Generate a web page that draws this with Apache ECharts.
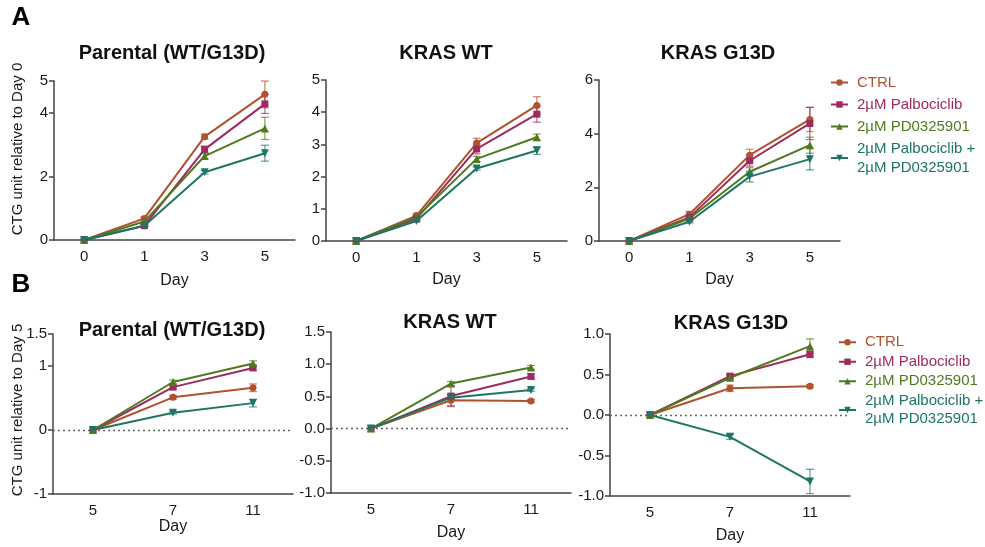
<!DOCTYPE html>
<html>
<head>
<meta charset="utf-8">
<script src="https://cdn.jsdelivr.net/npm/echarts@6/dist/echarts.min.js"></script>
<style>
  html, body { margin: 0; padding: 0; background: #fff; }
  #chart-container { width: 985px; height: 547px; }
</style>
</head>
<body>
<div id="chart-container"></div>
<script>
var dom = document.getElementById("chart-container");
var myChart = echarts.init(dom, null, { renderer: "canvas" });

// groups and days
var groupNames = ["CTRL", "2µM Palbociclib", "2µM PD0325901", "2µM Palbociclib +\n2µM PD0325901"];
var groupColors = ["#b0522e", "#9e2a5e", "#4f7a1e", "#1d7565"];
var daysA = ["0", "1", "3", "5"];
var daysB = ["5", "7", "11"];

// panel A: relative to day 0 (rows = CTRL, Palbo, PD, combo)
var aParental = [[0, 0.68, 3.25, 4.58], [0, 0.45, 2.85, 4.28], [0, 0.58, 2.64, 3.51], [0, 0.45, 2.13, 2.73]];
var aParentalErr = [[0, 0.05, 0.08, 0.42], [0, 0.03, 0.1, 0.3], [0, 0.05, 0.08, 0.35], [0, 0.03, 0.05, 0.25]];
var aWT = [[0, 0.79, 3.04, 4.21], [0, 0.69, 2.86, 3.94], [0, 0.74, 2.55, 3.22], [0, 0.62, 2.25, 2.81]];
var aWTErr = [[0, 0.05, 0.15, 0.27], [0, 0.05, 0.15, 0.25], [0, 0.03, 0.08, 0.1], [0, 0.03, 0.05, 0.12]];
var aG13D = [[0, 1.0, 3.2, 4.53], [0, 0.88, 2.99, 4.38], [0, 0.84, 2.58, 3.57], [0, 0.72, 2.4, 3.05]];
var aG13DErr = [[0, 0.1, 0.22, 0.45], [0, 0.08, 0.2, 0.6], [0, 0.05, 0.15, 0.3], [0, 0.05, 0.2, 0.4]];

// panel B: relative to day 5
var bParental = [[0, 0.51, 0.66], [0, 0.67, 0.97], [0, 0.75, 1.04], [0, 0.27, 0.42]];
var bParentalErr = [[0, 0.03, 0.06], [0, 0.03, 0.04], [0, 0.03, 0.04], [0, 0.02, 0.06]];
var bWT = [[0, 0.44, 0.43], [0, 0.505, 0.81], [0, 0.7, 0.95], [0, 0.48, 0.6]];
var bWTErr = [[0, 0.1, 0.02], [0, 0.15, 0.04], [0, 0.03, 0.03], [0, 0.03, 0.02]];
var bG13D = [[0, 0.33, 0.355], [0, 0.48, 0.75], [0, 0.46, 0.85], [0, -0.27, -0.82]];
var bG13DErr = [[0, 0.04, 0.02], [0, 0.03, 0.04], [0, 0.03, 0.09], [0, 0.03, 0.15]];

var font = "Liberation Sans, Arial, sans-serif";
var axisColor = "#444";
var labelColor = "#1a1a1a";
var symbols = ["circle", "rect", "triangle", "path://M0,0 L10,0 L5,10 Z"];
var symbolSizes = [7, 7, 8, 8];

var panels = [
  { title: "Parental (WT/G13D)", cats: daysA, vals: aParental, errs: aParentalErr,
    grid: { left: 54, top: 81, width: 241, height: 159 }, min: 0, max: 5, interval: 1,
    ticks: [0, 2, 4, 5], dec: 0, nameGap: 33, zero: false },
  { title: "KRAS WT", cats: daysA, vals: aWT, errs: aWTErr,
    grid: { left: 326, top: 80, width: 241, height: 161 }, min: 0, max: 5, interval: 1,
    ticks: [0, 1, 2, 3, 4, 5], dec: 0, nameGap: 31, zero: false },
  { title: "KRAS G13D", cats: daysA, vals: aG13D, errs: aG13DErr,
    grid: { left: 599, top: 80, width: 241, height: 161 }, min: 0, max: 6, interval: 2,
    ticks: [0, 2, 4, 6], dec: 0, nameGap: 31, zero: false },
  { title: "Parental (WT/G13D)", cats: daysB, vals: bParental, errs: bParentalErr,
    grid: { left: 53, top: 334, width: 240, height: 160 }, min: -1, max: 1.5, interval: 0.5,
    ticks: [-1, 0, 1, 1.5], dec: -1, nameGap: 25, zero: true },
  { title: "KRAS WT", cats: daysB, vals: bWT, errs: bWTErr,
    grid: { left: 331, top: 332, width: 240, height: 161 }, min: -1, max: 1.5, interval: 0.5,
    ticks: [-1, -0.5, 0, 0.5, 1, 1.5], dec: 1, nameGap: 32, zero: true },
  { title: "KRAS G13D", cats: daysB, vals: bG13D, errs: bG13DErr,
    grid: { left: 610, top: 334, width: 240, height: 162 }, min: -1, max: 1, interval: 0.5,
    ticks: [-1, -0.5, 0, 0.5, 1], dec: 1, nameGap: 32, zero: true },
];

function makeErrRender(color) {
  return function (params, api) {
    var x = api.value(0), y = api.value(1), e = api.value(2);
    if (!e) return;
    var top = api.coord([x, y + e]);
    var bot = api.coord([x, y - e]);
    var w = 4;
    var st = { stroke: color, lineWidth: 1.2, opacity: 0.7 };
    return {
      type: "group",
      children: [
        { type: "line", shape: { x1: top[0], y1: top[1], x2: bot[0], y2: bot[1] }, style: st },
        { type: "line", shape: { x1: top[0] - w, y1: top[1], x2: top[0] + w, y2: top[1] }, style: st },
        { type: "line", shape: { x1: bot[0] - w, y1: bot[1], x2: bot[0] + w, y2: bot[1] }, style: st },
      ],
    };
  };
}

var grids = [], xAxes = [], yAxes = [], series = [], graphics = [];

panels.forEach(function (p, i) {
  grids.push(p.grid);
  xAxes.push({
    type: "category",
    gridIndex: i,
    data: p.cats,
    boundaryGap: true,
    name: "Day",
    nameLocation: "middle",
    nameGap: p.nameGap,
    nameTextStyle: { fontFamily: font, fontSize: 16, color: labelColor },
    axisLine: { onZero: false, lineStyle: { color: axisColor, width: 1.5 } },
    axisTick: { alignWithLabel: true, length: 5, lineStyle: { color: axisColor, width: 1.5 } },
    axisLabel: { fontFamily: font, fontSize: 15, color: labelColor, margin: 9 },
    splitLine: { show: false },
  });
  yAxes.push({
    type: "value",
    gridIndex: i,
    min: p.min,
    max: p.max,
    interval: p.interval,
    axisLine: { show: true, lineStyle: { color: axisColor, width: 1.5 } },
    axisTick: { show: true, length: 5, customValues: p.ticks, lineStyle: { color: axisColor, width: 1.5 } },
    axisLabel: {
      fontFamily: font, fontSize: 15, color: labelColor, margin: 6,
      customValues: p.ticks,
      formatter: function (v) { return p.dec > 0 ? v.toFixed(p.dec) : String(v); },
    },
    splitLine: { show: false },
  });

  p.vals.forEach(function (vals, g) {
    var s = {
      name: groupNames[g],
      type: "line",
      xAxisIndex: i,
      yAxisIndex: i,
      data: vals,
      symbol: symbols[g],
      symbolSize: symbolSizes[g],
      color: groupColors[g],
      lineStyle: { width: 2, color: groupColors[g] },
      itemStyle: { color: groupColors[g] },
      z: 3,
    };
    if (p.zero && g === 0) {
      s.markLine = {
        silent: true,
        symbol: "none",
        label: { show: false },
        lineStyle: { color: "#666", type: [2, 3], width: 1.3 },
        data: [{ yAxis: 0 }],
      };
    }
    series.push(s);
    series.push({
      name: groupNames[g],
      type: "custom",
      xAxisIndex: i,
      yAxisIndex: i,
      color: groupColors[g],
      renderItem: makeErrRender(groupColors[g]),
      encode: { x: 0, y: 1 },
      data: vals.map(function (v, k) { return [k, v, p.errs[g][k]]; }),
      z: 2,
    });
  });
});

// titles and text labels
var titlePos = [[172, 53], [446, 53], [718, 53], [172, 330], [450, 322], [731, 323]];
panels.forEach(function (p, i) {
  graphics.push({
    type: "text",
    x: titlePos[i][0],
    y: titlePos[i][1],
    style: {
      text: p.title, fill: "#111", font: "bold 20px " + font,
      align: "center", verticalAlign: "middle", textAlign: "center", textVerticalAlign: "middle",
    },
  });
});
graphics.push(
  { type: "text", x: 21, y: 18, style: { text: "A", fill: "#000", font: "bold 26px " + font,
    align: "center", verticalAlign: "middle", textAlign: "center", textVerticalAlign: "middle" } },
  { type: "text", x: 21, y: 285, style: { text: "B", fill: "#000", font: "bold 26px " + font,
    align: "center", verticalAlign: "middle", textAlign: "center", textVerticalAlign: "middle" } },
  { type: "text", x: 18, y: 149, rotation: Math.PI / 2,
    style: { text: "CTG unit relative to Day 0", fill: labelColor, font: "15px " + font,
      align: "center", verticalAlign: "middle", textAlign: "center", textVerticalAlign: "middle" } },
  { type: "text", x: 18, y: 410, rotation: Math.PI / 2,
    style: { text: "CTG unit relative to Day 5", fill: labelColor, font: "15px " + font,
      align: "center", verticalAlign: "middle", textAlign: "center", textVerticalAlign: "middle" } }
);

function makeLegend(left, top, lineHeight, gap) {
  return {
    orient: "vertical",
    left: left,
    top: top,
    align: "left",
    itemWidth: 17,
    itemHeight: 8,
    itemGap: gap,
    padding: 0,
    selectedMode: false,
    textStyle: { fontFamily: font, fontSize: 15, lineHeight: lineHeight, padding: [0, 0, 0, 4] },
    data: groupNames.map(function (n, g) {
      return { name: n, textStyle: { color: groupColors[g] } };
    }),
  };
}

option = {
  backgroundColor: "#fff",
  animation: false,
  grid: grids,
  xAxis: xAxes,
  yAxis: yAxes,
  legend: [makeLegend(830, 73, 19, 3), makeLegend(838, 333, 18.5, 1)],
  graphic: graphics,
  series: series,
};

myChart.setOption(option);
window.addEventListener("resize", myChart.resize);
</script>
</body>
</html>
